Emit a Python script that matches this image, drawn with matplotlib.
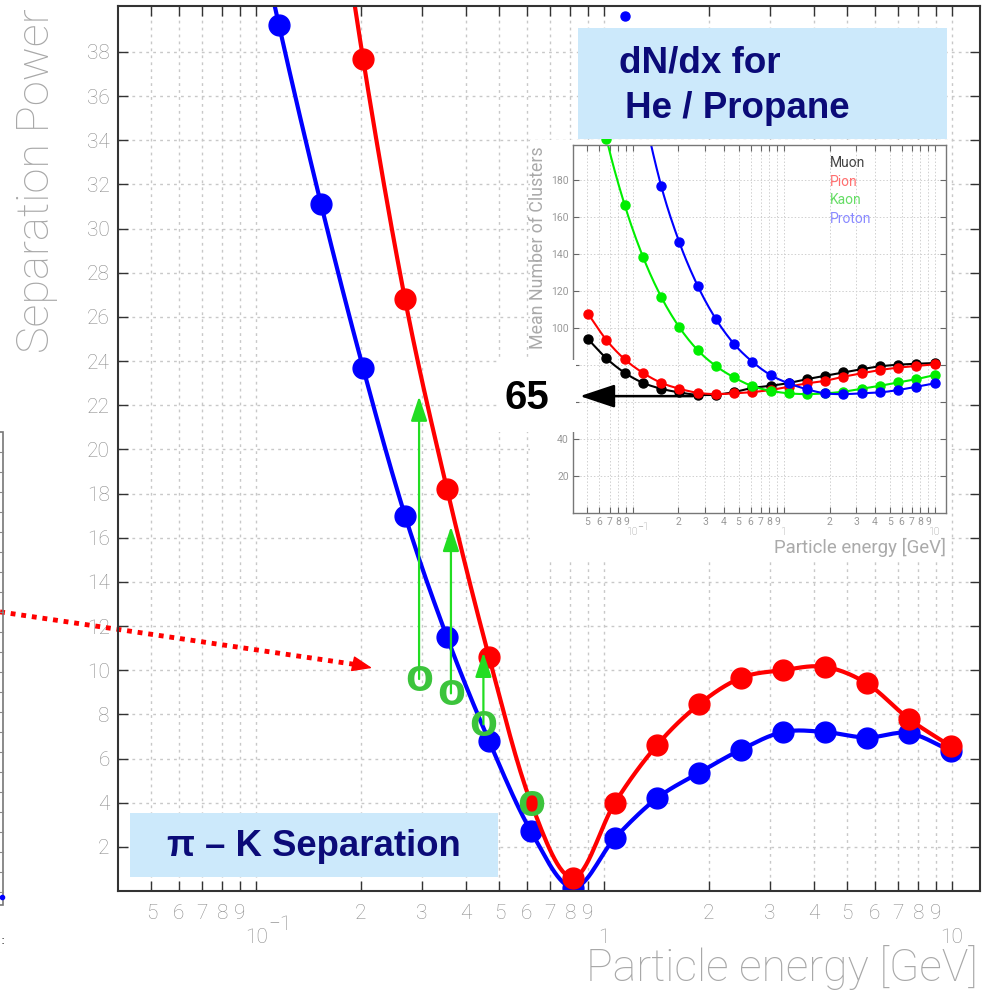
import numpy as np
import matplotlib.pyplot as plt
from matplotlib.patches import Rectangle
from matplotlib.lines import Line2D

W, H = 990, 996

# particle energies [GeV] of the simulated points
energy = [0.0506, 0.0668, 0.0882, 0.1164, 0.1537, 0.2029, 0.2679, 0.3537, 0.467, 0.6165,
          0.814, 1.0746, 1.4187, 1.873, 2.473, 3.265, 4.31, 5.69, 7.51, 9.92]

# pi-K separation power (main plot), blue starts at energy[2], red at energy[4]
blue_sep = [48.0, 39.2, 31.1, 23.7, 17.0, 11.5, 6.8, 2.7, 0.15, 2.4, 4.2, 5.35, 6.4,
            7.2, 7.2, 6.95, 7.15, 6.35]
red_sep = [50.5, 37.7, 26.8, 18.2, 10.6, 4.0, 0.6, 4.0, 6.6, 8.45, 9.65, 10.0, 10.15,
           9.4, 7.8, 6.55]

# mean number of clusters (inset)
muon = [93.9, 83.6, 75.8, 70.4, 67.2, 65.2, 63.9, 64.0, 65.4, 67.6, 68.8, 70.3, 72.4,
        74.2, 76.0, 77.8, 79.3, 80.2, 80.7, 81.1]
pion = [107.6, 93.5, 83.1, 75.8, 70.4, 67.2, 65.0, 64.3, 64.7, 65.4, 66.5, 68.3, 70.1,
        71.5, 73.7, 75.5, 77.3, 78.6, 79.5, 80.4]
kaon = [250.0, 202.5, 166.5, 138.6, 116.9, 100.4, 88.1, 79.5, 73.3, 68.6, 66.1, 64.7,
        64.3, 64.7, 65.6, 67.2, 68.8, 70.6, 72.4, 74.6]
proton = [268.6, 219.0, 176.9, 146.3, 122.9, 104.9, 91.4, 81.8, 74.6, 70.1, 66.9, 64.7,
          64.3, 64.7, 65.2, 66.5, 68.3, 70.1]
legend_names = ['Muon', 'Pion', 'Kaon', 'Proton']

# green marks / arrows drawn on the main plot
mark_e = [0.294, 0.363, 0.450, 0.617]
mark_v = [9.6, 8.95, 7.55, 3.95]
arrow_tip = [22.4, 16.5, 10.8]

xtick_vals = [0.05, 0.06, 0.07, 0.08, 0.09, 0.1, 0.2, 0.3, 0.4, 0.5, 0.6, 0.7, 0.8, 0.9,
              1, 2, 3, 4, 5, 6, 7, 8, 9, 10]
major_vals = [0.1, 1, 10]

AXFONT = 'Roboto'
GREY = '#8c8c8c'
NAVY = '#0b0b78'
BOX = '#cce9fb'


def fx(x):
    return x / W


def fy(y):
    return 1 - y / H


def smooth(x, y, n=16):
    # Catmull-Rom through the points in (log x, y)
    P = np.column_stack([np.log10(x), y])
    P = np.vstack([2 * P[0] - P[1], P, 2 * P[-1] - P[-2]])
    t = np.linspace(0, 1, n, endpoint=False)[:, None]
    out = []
    for i in range(1, len(P) - 2):
        p0, p1, p2, p3 = P[i - 1], P[i], P[i + 1], P[i + 2]
        out.append(0.5 * (2 * p1 + (p2 - p0) * t + (2 * p0 - 5 * p1 + 4 * p2 - p3) * t ** 2
                          + (3 * p1 - p0 - 3 * p2 + p3) * t ** 3))
    out.append(P[-2][None, :])
    out = np.vstack(out)
    return 10 ** out[:, 0], out[:, 1]


def tick_label(v):
    if v in major_vals:
        return ''
    return str(int(round(v / 10 ** np.floor(np.log10(v) + 1e-9))))


def root_xaxis(a, size, major_y, exp_dx, exp_dy):
    a.set_xscale('log')
    a.set_xticks(xtick_vals)
    a.set_xticklabels([tick_label(v) for v in xtick_vals])
    a.minorticks_off()
    tr = a.get_xaxis_transform()
    for v in major_vals:
        if v == 0.1:
            a.annotate('10', (v, major_y), xycoords=tr, ha='center', va='center',
                       fontsize=size, color=GREY, family=AXFONT, fontweight='light',
                       annotation_clip=False)
            a.annotate('\u22121', (v, major_y), xycoords=tr, xytext=(exp_dx, exp_dy),
                       textcoords='offset points', ha='center', va='center',
                       fontsize=size, color=GREY, family=AXFONT, fontweight='light',
                       annotation_clip=False)
        else:
            a.text(v, major_y, '%g' % v, transform=tr, ha='center', va='center',
                   fontsize=size, color=GREY, family=AXFONT, fontweight='light')


fig = plt.figure(figsize=(W / 100, H / 100), dpi=100)

# ---------------- main plot ----------------
ax = fig.add_axes([fx(118), fy(891), fx(980) - fx(118), fy(6) - fy(891)], zorder=0)
root_xaxis(ax, 15, -0.052, 17, 9)
ax.set_xlim(0.0401, 12.03)
ax.set_ylim(0, 40.08)
ax.set_yticks(range(2, 40, 2))
ax.grid(True, color='#c8c8c8', linestyle=(0, (2, 3)), linewidth=1)
ax.tick_params(direction='in', length=7, width=1, top=True, right=True, color='#333333',
               labelsize=15, labelcolor=GREY)
ax.tick_params(axis='x', pad=9)
ax.tick_params(axis='y', pad=6)
for lab in ax.get_xticklabels() + ax.get_yticklabels():
    lab.set_family(AXFONT)
    lab.set_fontweight('light')
for s in ax.spines.values():
    s.set_color('#333333')
    s.set_linewidth(1.5)

for vals, col, start in [(blue_sep, '#0000ff', 2), (red_sep, '#ff0000', 4)]:
    e = energy[start:]
    sx, sy = smooth(e, vals)
    ax.plot(sx, sy, color=col, lw=3)
    ax.plot(e, vals, 'o', color=col, ms=15)

# green arrows and marks
for e, base, tip in zip(mark_e, mark_v, arrow_tip):
    ax.annotate('', xy=(e, tip), xytext=(e, base),
                arrowprops=dict(arrowstyle='-|>,head_length=0.75,head_width=0.25',
                                color='#22dd22', lw=1.6, mutation_scale=20,
                                shrinkA=0, shrinkB=0))
for e, v in zip(mark_e, mark_v):
    ax.text(e, v, 'o', ha='center', va='center', fontsize=33, fontweight='bold',
            color='#3cc43c', family='Liberation Sans')

# red dotted arrow coming from the left
ax.plot([0.01838, 0.200], [12.64, 10.22], color='#ff0000', lw=3.5,
        linestyle=(0, (1, 1.2)), clip_on=False, solid_capstyle='butt')
ax.annotate('', xy=(0.2154, 10.10), xytext=(0.195, 10.25),
            arrowprops=dict(arrowstyle='-|>,head_length=0.9,head_width=0.35',
                            color='#ff0000', lw=1, mutation_scale=14,
                            shrinkA=0, shrinkB=0), annotation_clip=False)

fig.text(fx(37), fy(8), 'Separation Power', rotation=90, ha='center', va='top',
         fontsize=32.5, color='#a8a8a8', family=AXFONT, fontweight='light')
fig.text(fx(978), fy(968), 'Particle energy [GeV]', ha='right', va='center',
         fontsize=32, color='#a8a8a8', family=AXFONT, fontweight='light')

# ---------------- inset ----------------
fig.add_artist(Rectangle((fx(530), fy(560)), fx(950) - fx(530), fy(140) - fy(560),
                         transform=fig.transFigure, facecolor='white', edgecolor='none',
                         zorder=1))
ins = fig.add_axes([fx(573), fy(513), fx(946) - fx(573), fy(145) - fy(513)], zorder=2)
root_xaxis(ins, 7.5, -0.052, 7, 4)
ins.set_xlim(0.0401, 11.8)
ins.set_ylim(0, 199)
ins.set_yticks(range(20, 200, 20))
ins.grid(True, color='#d0d0d0', linestyle=(0, (1.5, 2)), linewidth=0.7)
ins.tick_params(direction='in', length=4, width=0.8, top=True, right=True, color='#666666',
                labelsize=7.5, labelcolor='#999999', pad=3)
for lab in ins.get_xticklabels() + ins.get_yticklabels():
    lab.set_family(AXFONT)
for s in ins.spines.values():
    s.set_color('#777777')
    s.set_linewidth(1)

inset_series = [(muon, '#000000', 0), (pion, '#ff0000', 0), (kaon, '#00ee00', 0),
                (proton, '#0000ff', 2)]
for vals, col, start in inset_series:
    e = energy[start:]
    sx, sy = smooth(e, vals)
    ins.plot(sx, sy, color=col, lw=1.5)
    ins.plot(e, vals, 'o', color=col, ms=6.5, clip_on=False)

legend_cols = ['#444444', '#ff7070', '#66dd66', '#8a8aff']
for i, (name, col) in enumerate(zip(legend_names, legend_cols)):
    fig.text(fx(830), fy(163 + 18.7 * i), name, ha='left', va='center', fontsize=10,
             color=col, family=AXFONT, zorder=3)
fig.text(fx(538), fy(146), 'Mean Number of Clusters', rotation=90, ha='center', va='top',
         fontsize=12.8, color='#aaaaaa', family=AXFONT, zorder=3)
fig.text(fx(946), fy(547), 'Particle energy [GeV]', ha='right', va='center',
         fontsize=13.4, color='#aaaaaa', family=AXFONT, zorder=3)

# "65" marker with arrow
ins.annotate('', xy=(0.0446, 63.2), xytext=(0.2496, 63.2), annotation_clip=False,
             arrowprops=dict(arrowstyle='-|>,head_length=1.2,head_width=0.4',
                             color='black', lw=1.8, mutation_scale=18,
                             shrinkA=0, shrinkB=0))
fig.add_artist(Rectangle((fx(497), fy(432)), fx(576) - fx(497), fy(360) - fy(432),
                         transform=fig.transFigure, facecolor='white', edgecolor='none',
                         zorder=3))
fig.text(fx(527), fy(398), '65', ha='center', va='center', fontsize=29,
         fontweight='bold', family='Liberation Sans', color='black', zorder=4)

# ---------------- text boxes ----------------
fig.add_artist(Rectangle((fx(578), fy(139)), fx(947) - fx(578), fy(28) - fy(139),
                         transform=fig.transFigure, facecolor=BOX, edgecolor='none',
                         zorder=3))
fig.text(fx(619), fy(63), 'dN/dx for', ha='left', va='center', fontsize=26.5,
         fontweight='bold', family='Liberation Sans', color=NAVY, zorder=4)
fig.text(fx(625), fy(108), 'He / Propane', ha='left', va='center', fontsize=26.5,
         fontweight='bold', family='Liberation Sans', color=NAVY, zorder=4)

fig.add_artist(Rectangle((fx(130), fy(877)), fx(498) - fx(130), fy(813) - fy(877),
                         transform=fig.transFigure, facecolor=BOX, edgecolor='none',
                         zorder=3))
fig.text(fx(314), fy(846), '\u03c0 \u2013 K Separation', ha='center', va='center',
         fontsize=26.3, fontweight='bold', family='Liberation Sans', color=NAVY, zorder=4)

# fragment of a neighbouring slide element at the left edge
fig.add_artist(Rectangle((fx(-20), fy(905)), fx(23), fy(432) - fy(905),
                         transform=fig.transFigure, facecolor='none', edgecolor='#777777',
                         lw=1.2, zorder=3))
for yy in range(452, 905, 20):
    fig.add_artist(Line2D([fx(0), fx(3)], [fy(yy), fy(yy)], color='#888888', lw=0.8,
                          transform=fig.transFigure, zorder=3))
fig.add_artist(Line2D([fx(2)], [fy(897)], marker='o', ms=3, color='#0000ff',
                      transform=fig.transFigure, zorder=3))
fig.text(fx(1), fy(940), ':', ha='left', va='center', fontsize=9, color='#333333')

fig.savefig('out.png', dpi=100)
